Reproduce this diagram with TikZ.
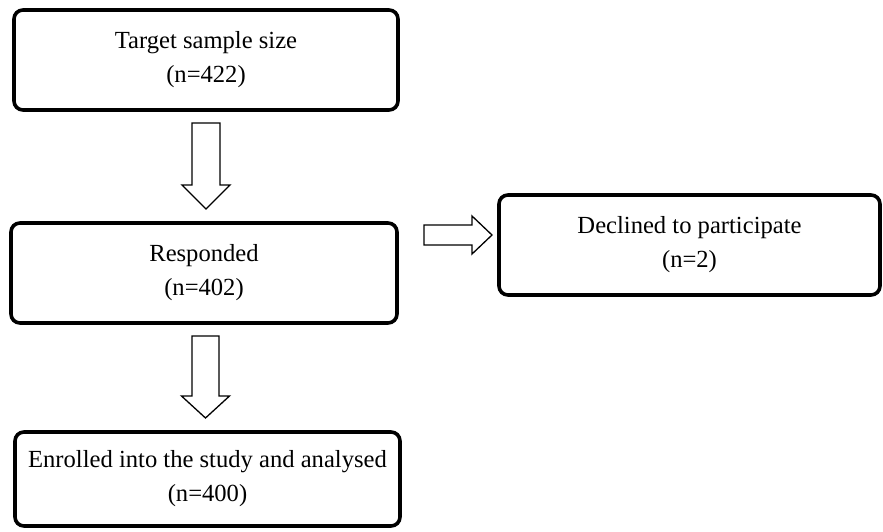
\documentclass[tikz,border=0pt]{standalone}
\usepackage{fontspec}
\setmainfont{Liberation Serif}
\usetikzlibrary{calc}
\tikzset{
  box/.style={draw, line width=3.6pt, rounded corners=9pt, align=center, inner sep=0pt,
    font=\fontsize{24.6}{34}\selectfont},
  blockarrow/.style={draw, line width=1.3pt, fill=white, line join=miter},
}
\begin{document}
\begin{tikzpicture}[x=1pt,y=-1pt]
\useasboundingbox (0,0) rectangle (883,531);
\node[box, minimum width=384pt, minimum height=100pt] (b1) at (206,60) {Target sample size\\(n=422)};
\node[box, minimum width=386pt, minimum height=100pt] (b2) at (204,273) {Responded\\(n=402)};
\node[box, minimum width=381pt, minimum height=100pt] (b3) at (689.5,245) {Declined to participate\\(n=2)};
\node[box, minimum width=385pt, minimum height=94pt] (b4) at (207.5,479) {Enrolled into the study and analysed\\(n=400)};
% free ends of the block arrows
\coordinate (a1top) at (206,123);
\coordinate (a1tip) at (206,209);
\coordinate (a3top) at (205.5,336);
\coordinate (a3tip) at (205.5,418);
\coordinate (a2start) at (424,235);
\coordinate (a2tip) at (492,235);
% down arrow b1 -> b2
\draw[blockarrow] let \p1=(a1top), \p2=(a1tip) in
  (\x1-14pt,\y1) -- (\x1+14pt,\y1) -- (\x1+14pt,\y2+24pt) -- (\x1+24pt,\y2+24pt)
  -- (\x2,\y2) -- (\x1-24pt,\y2+24pt) -- (\x1-14pt,\y2+24pt) -- cycle;
% down arrow b2 -> b4
\draw[blockarrow] let \p1=(a3top), \p2=(a3tip) in
  (\x1-13.5pt,\y1) -- (\x1+13.5pt,\y1) -- (\x1+13.5pt,\y2+22pt) -- (\x1+24pt,\y2+22pt)
  -- (\x2,\y2) -- (\x1-24pt,\y2+22pt) -- (\x1-13.5pt,\y2+22pt) -- cycle;
% right arrow b2 -> b3
\draw[blockarrow] let \p1=(a2start), \p2=(a2tip) in
  (\x1,\y1+10pt) -- (\x2-20pt,\y1+10pt) -- (\x2-20pt,\y1+19pt) -- (\x2,\y2)
  -- (\x2-20pt,\y1-19pt) -- (\x2-20pt,\y1-10pt) -- (\x1,\y1-10pt) -- cycle;
\end{tikzpicture}
\end{document}
